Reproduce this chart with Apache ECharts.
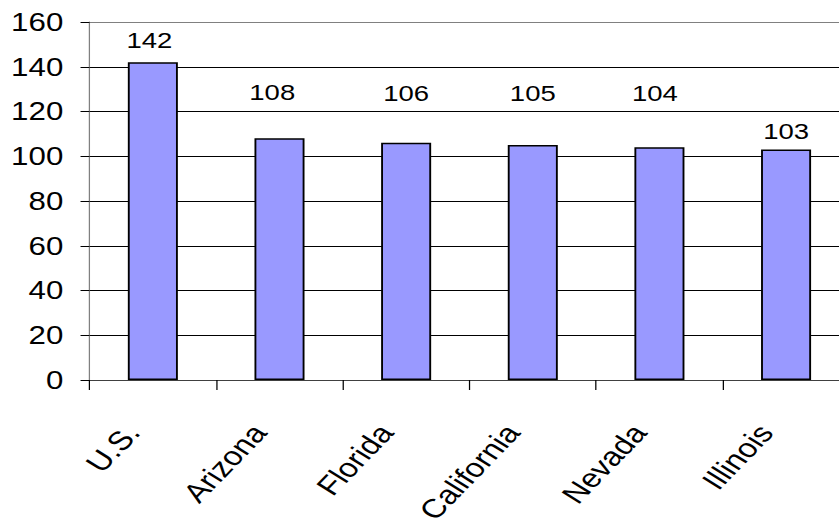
<!DOCTYPE html>
<html>
<head>
<meta charset="utf-8">
<script src="https://cdn.jsdelivr.net/npm/echarts@6/dist/echarts.min.js"></script>
<style>
html,body{margin:0;padding:0;background:#fff;}
#wrap{width:839px;height:523px;overflow:hidden;position:relative;background:#fff;}
#chart{width:671px;height:523px;transform:scaleX(1.2504);transform-origin:0 0;}
</style>
</head>
<body>
<div id="wrap"><div id="chart"></div></div>
<script>
const categories = ['U.S.', 'Arizona', 'Florida', 'California', 'Nevada', 'Illinois'];
const values = [142, 108, 106, 105, 104, 103];
const yTicks = [0, 20, 40, 60, 80, 100, 120, 140, 160];

// label placement tweaks (style only)
const labelDx = [-2.7, -5.8, 0, 0, -3.6, 0];
const labelDy = [-5.8, -30.2, -33.3, -35.6, -37.8, -2.3];

const FONT = "'Liberation Sans', Arial, sans-serif";
const chart = echarts.init(document.getElementById('chart'), null, {renderer: 'svg'});

const gridColors = yTicks.map((t, i) => i === yTicks.length - 1 ? '#808080' : '#000000');

chart.setOption({
  animation: false,
  backgroundColor: '#ffffff',
  grid: {left: 71.6, top: 22, width: 607.7, height: 358, containLabel: false, outerBoundsMode: 'none'},
  xAxis: {
    type: 'category',
    data: categories,
    boundaryGap: true,
    axisLine: {show: true, lineStyle: {color: '#404040', width: 1}},
    axisTick: {show: true, inside: false, length: 10, lineStyle: {color: '#000', width: 1}},
    axisLabel: {
      rotate: 52,
      interval: 0,
      margin: 49,
      padding: [0, 9, 0, 0],
      align: 'right',
      verticalAlign: 'bottom',
      fontFamily: FONT,
      fontSize: 26.5,
      color: '#000'
    },
    splitLine: {show: false}
  },
  yAxis: {
    type: 'value',
    min: yTicks[0],
    max: yTicks[yTicks.length - 1],
    interval: 20,
    axisLine: {show: true, lineStyle: {color: '#808080', width: 1}},
    axisTick: {show: true, inside: false, length: 7.2, lineStyle: {color: '#000', width: 1}},
    axisLabel: {
      margin: 21,
      fontFamily: FONT,
      fontSize: 25,
      color: '#000'
    },
    splitLine: {show: true, lineStyle: {color: gridColors, width: 1}}
  },
  series: [{
    type: 'bar',
    barWidth: '39.5%',
    data: values.map((v, i) => ({
      value: v,
      label: {offset: [labelDx[i], labelDy[i]]}
    })),
    itemStyle: {color: '#9999FF', borderColor: '#000', borderWidth: 1.5},
    label: {
      show: true,
      position: 'top',
      distance: 5,
      fontFamily: FONT,
      fontSize: 22,
      color: '#000'
    }
  }]
});
</script>
</body>
</html>
